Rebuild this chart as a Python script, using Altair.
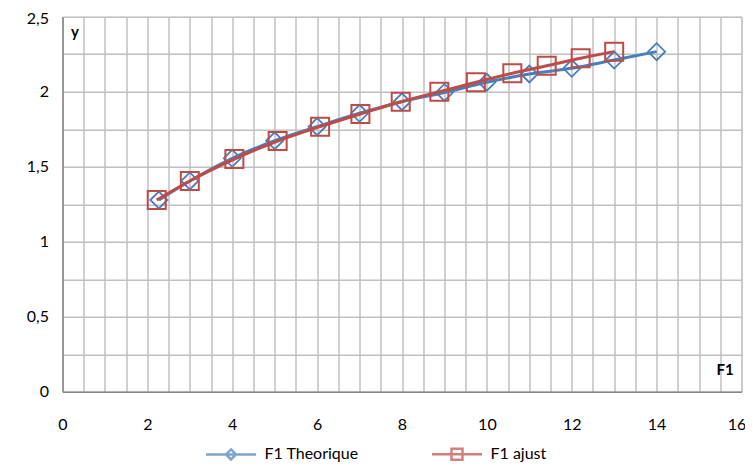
import altair as alt
import pandas as pd

series = ["F1 Theorique", "F1 ajust"]
colors = ["#4a7ebb", "#be4b48"]

theo_x = [2.27, 3, 4, 5, 6, 7, 8, 9, 10, 11, 12, 13, 14]
theo_y = [1.278, 1.405, 1.556, 1.673, 1.767, 1.856, 1.933, 1.995, 2.063, 2.118, 2.156, 2.211, 2.267]
ajust_x = [2.22, 3.0, 4.05, 5.07, 6.07, 7.02, 7.97, 8.88, 9.74, 10.6, 11.41, 12.21, 13.0]
ajust_y = [1.278, 1.405, 1.551, 1.671, 1.767, 1.851, 1.933, 2.0, 2.063, 2.123, 2.173, 2.223, 2.267]

x_ticks = [i * 0.5 for i in range(33)]
y_ticks = [i * 0.25 for i in range(11)]

df = pd.DataFrame({
    "x": theo_x + ajust_x,
    "y": theo_y + ajust_y,
    "series": [series[0]] * len(theo_x) + [series[1]] * len(ajust_x),
})

FONT = "Lato"

x_enc = alt.X("x:Q", scale=alt.Scale(domain=[0, 16], nice=False, zero=False),
              axis=alt.Axis(values=x_ticks, format="~g",
                            labelExpr="datum.value % 2 == 0 ? datum.label : ''",
                            labelOffset={"condition": {"test": "datum.value == 16", "value": -5}, "value": 0},
                            title="F1", titleX=662, titleY=-22, titleAlign="center",
                            titleBaseline="middle", titleFontWeight="bold",
                            titleFontSize=15, titleFont=FONT, titleColor="#000000",
                            ticks=False, labelPadding=25, labelFlush=False,
                            labelOverlap=False, labelFont=FONT, labelFontSize=16,
                            labelColor="#000000", grid=True, gridColor="#c0c0c0",
                            gridWidth=1.5, domainColor="#868686", domainWidth=1.5))
y_enc = alt.Y("y:Q", scale=alt.Scale(domain=[0, 2.5], nice=False, zero=False),
              axis=alt.Axis(values=y_ticks,
                            labelExpr="datum.value % 0.5 == 0 ? replace(format(datum.value, '.1~f'), '.', ',') : ''",
                            labelOffset={"condition": {"test": "datum.value == 2.5", "value": 2}, "value": 0},
                            title="y", titleAngle=0, titleX=12, titleY=15,
                            titleAlign="center", titleBaseline="middle",
                            titleFontWeight="bold", titleFontSize=15, titleFont=FONT,
                            titleColor="#000000",
                            ticks=False, labelPadding=14, labelFlush=False,
                            labelOverlap=False, labelFont=FONT, labelFontSize=16,
                            labelColor="#000000", grid=True, gridColor="#c0c0c0",
                            gridWidth=1.5, domainColor="#868686", domainWidth=1.5))

base = alt.Chart(df)

def line_layer(name, color):
    return base.transform_filter(alt.datum.series == name).mark_line(
        interpolate="monotone", strokeWidth=3, color=color
    ).encode(x=x_enc, y=y_enc)

def point_layer(name, color, shape, size, sw):
    return base.transform_filter(alt.datum.series == name).mark_point(
        shape=shape, size=size, filled=False, stroke=color, strokeWidth=sw, opacity=1
    ).encode(x=x_enc, y=y_enc)

theo_path = "M-1,0L1,0M0,-0.2L0.2,0L0,0.2L-0.2,0Z"
ajust_path = "M-1,0L1,0M-0.22,-0.22L0.22,-0.22L0.22,0.22L-0.22,0.22Z"

leg = dict(title=None, orient="none", legendX=142, legendY=411, direction="horizontal",
           symbolSize=2500, symbolStrokeWidth=2.5, labelFont=FONT, labelFontSize=16,
           labelColor="#000000", labelOffset=7, columnPadding=67, padding=0)

legend_layer = base.transform_filter("false").mark_point(filled=False).encode(
    x=x_enc, y=y_enc,
    shape=alt.Shape("series:N", scale=alt.Scale(domain=series, range=[theo_path, ajust_path]),
                    legend=alt.Legend(**leg)),
    stroke=alt.Stroke("series:N", scale=alt.Scale(domain=series, range=colors),
                      legend=alt.Legend(**leg)),
)

chart = alt.layer(
    line_layer(series[0], colors[0]),
    point_layer(series[0], colors[0], "diamond", 289, 1.8),
    line_layer(series[1], colors[1]),
    point_layer(series[1], colors[1], "square", 324, 2),
    legend_layer,
).properties(
    width=679, height=375,
    padding={"left": 54.5, "top": 8.7, "right": 3.5, "bottom": 70},
    autosize=alt.AutoSizeParams(type="none"),
).configure_view(strokeWidth=0).configure(background="#ffffff")

chart.save("out.html", embed_options={"renderer": "svg", "actions": False})
